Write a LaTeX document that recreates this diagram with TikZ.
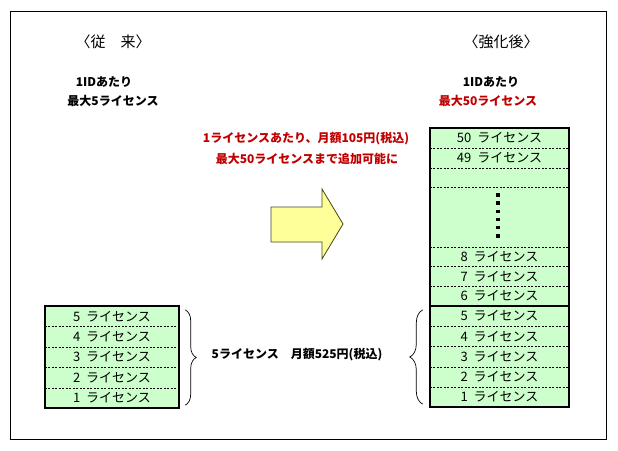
\documentclass[tikz,border=0pt]{standalone}
\usepackage{fontspec}
\setmainfont{Noto Sans CJK JP}
\usetikzlibrary{decorations.pathreplacing}
\definecolor{lgreen}{RGB}{204,255,204}
\definecolor{dred}{RGB}{192,0,0}
\definecolor{lyellow}{RGB}{255,255,153}
\definecolor{arrowedge}{RGB}{70,70,20}

\begin{document}
\begin{tikzpicture}[x=1pt,y=-1pt]

\tikzset{lic/.style = {fill=lgreen, minimum width=134pt, minimum height=20.4pt, inner sep=0pt, font=\fontsize{13}{15}\selectfont}}
\tikzset{head/.style = {font=\fontsize{15}{18}\selectfont}}
\tikzset{note/.style = {font=\fontsize{12}{14}\selectfont\bfseries}}
\tikzset{sep/.style = {dash pattern=on 2pt off 1.5pt, line width=0.6pt}}
\tikzset{thick border/.style = {line width=2.5pt}}
\tikzset{brace/.style = {decorate, decoration={brace, amplitude=11pt}, line width=0.7pt}}
\useasboundingbox (0,0) rectangle (618,450);
\draw[line width=0.8pt] (10,11) rectangle (606,439);
%headings
\node[head] (oldtitle) at (113,42) {〈従　来〉};
\node[note] (oldper) at (104,82) {1IDあたり};
\node[note] (oldmax) at (113,101) {最大5ライセンス};
\node[head] (newtitle) at (501,42) {〈強化後〉};
\node[note] (newper) at (491,82) {1IDあたり};
\node[note, dred] (newmax) at (488,101) {最大50ライセンス};
\node[note, dred] (addon) at (306,139) {1ライセンスあたり、月額105円(税込)};
\node[note, dred] (addmax) at (307,159) {最大50ライセンスまで追加可能に};
%arrow
\draw[fill=lyellow, draw=arrowedge, line width=0.8pt] (271,207) -- (322,207) -- (322,189) -- (343,224) -- (322,259) -- (322,242) -- (271,242) -- cycle;
%old licences
\node[lic] (old5) at (112,316.2) {5\hspace{6pt}ライセンス};
\node[lic] (old4) at (112,336.6) {4\hspace{6pt}ライセンス};
\node[lic] (old3) at (112,357) {3\hspace{6pt}ライセンス};
\node[lic] (old2) at (112,377.4) {2\hspace{6pt}ライセンス};
\node[lic] (old1) at (112,397.8) {1\hspace{6pt}ライセンス};
\draw[sep] (old5.south west) -- (old5.south east);
\draw[sep] (old4.south west) -- (old4.south east);
\draw[sep] (old3.south west) -- (old3.south east);
\draw[sep] (old2.south west) -- (old2.south east);
\draw[thick border] (old5.north west) rectangle (old1.south east);
%new licences
\node[lic, minimum width=139pt, minimum height=19.8pt] (new50) at (499.5,137.9) {50\hspace{6pt}ライセンス};
\node[lic, minimum width=139pt, minimum height=19.8pt] (new49) at (499.5,157.7) {49\hspace{6pt}ライセンス};
\node[lic, minimum width=139pt, minimum height=19.8pt] (newgap) at (499.5,177.5) {};
\node[lic, minimum width=139pt, minimum height=59.4pt] (newdots) at (499.5,217) {};
\node[lic, minimum width=139pt, minimum height=19.8pt] (new8) at (499.5,256.6) {8\hspace{6pt}ライセンス};
\node[lic, minimum width=139pt, minimum height=19.8pt] (new7) at (499.5,276.4) {7\hspace{6pt}ライセンス};
\node[lic, minimum width=139pt, minimum height=19.8pt] (new6) at (499.5,296.1) {6\hspace{6pt}ライセンス};
\node[lic, minimum width=139pt, minimum height=20.2pt] (new5) at (499.5,316.1) {5\hspace{6pt}ライセンス};
\node[lic, minimum width=139pt, minimum height=20.2pt] (new4) at (499.5,336.3) {4\hspace{6pt}ライセンス};
\node[lic, minimum width=139pt, minimum height=20.2pt] (new3) at (499.5,356.5) {3\hspace{6pt}ライセンス};
\node[lic, minimum width=139pt, minimum height=20.2pt] (new2) at (499.5,376.7) {2\hspace{6pt}ライセンス};
\node[lic, minimum width=139pt, minimum height=20.2pt] (new1) at (499.5,396.9) {1\hspace{6pt}ライセンス};
\draw[sep] (new50.south west) -- (new50.south east);
\draw[sep] (new49.south west) -- (new49.south east);
\draw[sep] (newgap.south west) -- (newgap.south east);
\draw[sep] (newdots.south west) -- (newdots.south east);
\draw[sep] (new8.south west) -- (new8.south east);
\draw[sep] (new7.south west) -- (new7.south east);
\draw[sep] (new5.south west) -- (new5.south east);
\draw[sep] (new4.south west) -- (new4.south east);
\draw[sep] (new3.south west) -- (new3.south east);
\draw[sep] (new2.south west) -- (new2.south east);
\draw[line width=3.5pt, dash pattern=on 3.5pt off 4.7pt] ([xshift=-1.5pt, yshift=-6pt]newdots.north) -- ([xshift=-1.5pt, yshift=9pt]newdots.south);
\draw[thick border] (new50.north west) rectangle (new1.south east);
\draw[thick border] (new6.south west) -- (new6.south east);
%braces
\draw[brace] ([xshift=6pt, yshift=-4pt]old5.north east) -- ([xshift=6pt, yshift=3pt]old1.south east);
\draw[brace, decoration={amplitude=13pt}] ([xshift=-7pt, yshift=3pt]new1.south west) -- ([xshift=-7pt, yshift=-4pt]new5.north west);
\node[note] (price) at (297,355) {5ライセンス　月額525円(税込)};

\end{tikzpicture}
\end{document}
